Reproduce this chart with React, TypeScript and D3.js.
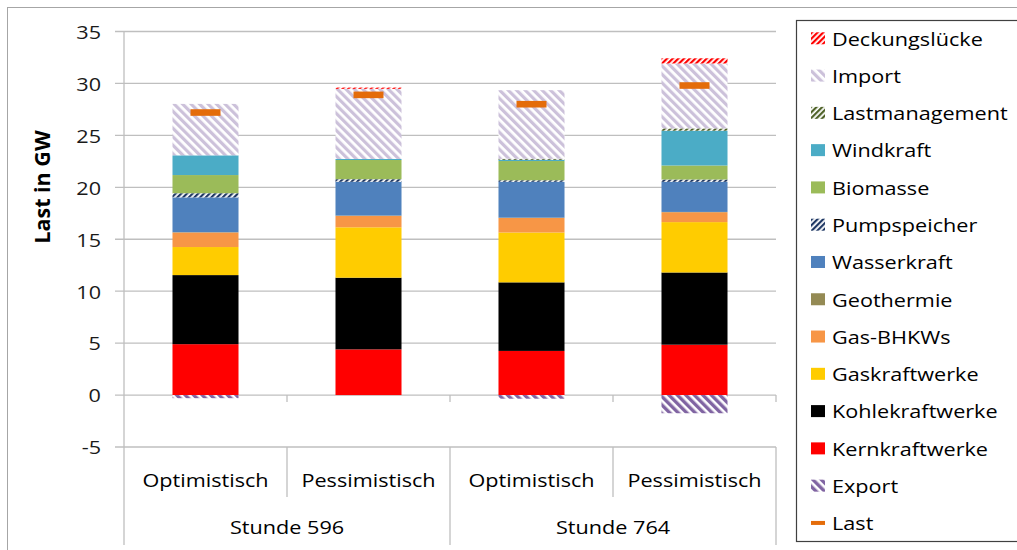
import * as d3 from "d3";

const scenarios = ["Optimistisch", "Pessimistisch", "Optimistisch", "Pessimistisch"];
const hours = ["Stunde 596", "Stunde 764"];
const yTicks = [-5, 0, 5, 10, 15, 20, 25, 30, 35];

// values in GW, per bar (596 opt, 596 pess, 764 opt, 764 pess)
const kernkraft = [4.9, 4.4, 4.25, 4.85];
const kohle = [6.65, 6.9, 6.6, 6.95];
const gas = [2.7, 4.85, 4.8, 4.85];
const gasBhkw = [1.4, 1.1, 1.4, 0.95];
const geothermie = [0.03, 0.03, 0.03, 0.03];
const wasser = [3.35, 3.25, 3.45, 2.9];
const pumpspeicher = [0.4, 0.25, 0.15, 0.22];
const biomasse = [1.75, 1.85, 1.85, 1.35];
const wind = [1.9, 0.1, 0.12, 3.35];
const lastmanagement = [0, 0, 0.1, 0.22];
const importe = [4.95, 6.75, 6.6, 6.25];
const deckung = [0, 0.12, 0, 0.5];
const exporte = [-0.3, 0, -0.35, -1.75];
const last = [27.2, 28.9, 28.0, 29.8];

interface Series {
  key: string;
  values: number[];
  fill: string;
}

// stacking order, bottom to top
const series: Series[] = [
  { key: "Kernkraftwerke", values: kernkraft, fill: "#FF0000" },
  { key: "Kohlekraftwerke", values: kohle, fill: "#000000" },
  { key: "Gaskraftwerke", values: gas, fill: "#FFCC00" },
  { key: "Gas-BHKWs", values: gasBhkw, fill: "#F79646" },
  { key: "Geothermie", values: geothermie, fill: "#948A54" },
  { key: "Wasserkraft", values: wasser, fill: "#4F81BD" },
  { key: "Pumpspeicher", values: pumpspeicher, fill: "url(#p-pump)" },
  { key: "Biomasse", values: biomasse, fill: "#9BBB59" },
  { key: "Windkraft", values: wind, fill: "#4BACC6" },
  { key: "Lastmanagement", values: lastmanagement, fill: "url(#p-lm)" },
  { key: "Import", values: importe, fill: "url(#p-import)" },
  { key: "Deckungslücke", values: deckung, fill: "url(#p-deck)" },
  { key: "Export", values: exporte, fill: "url(#p-export)" },
];

const legendOrder = [
  "Deckungslücke", "Import", "Lastmanagement", "Windkraft", "Biomasse",
  "Pumpspeicher", "Wasserkraft", "Geothermie", "Gas-BHKWs", "Gaskraftwerke",
  "Kohlekraftwerke", "Kernkraftwerke", "Export", "Last",
];

const W = 1017;
const H = 550;
const plot = { left: 124, right: 776, top: 31.5, bottom: 447 };
const FONT = "'Open Sans', sans-serif";
const FS = 18.5;
const SX = 1.17; // reference text is a bit stretched horizontally
const GRID = "#BFBFBF";
const LAST = "#E46C0A";

function T({ x, y, anchor = "start", children, bold = false, fill = "#000" }: any) {
  return (
    <text
      transform={`translate(${x},${y}) scale(${SX},1)`}
      textAnchor={anchor}
      dominantBaseline="central"
      fontFamily={FONT}
      fontSize={FS}
      fontWeight={bold ? "bold" : "normal"}
      fill={fill}
    >
      {children}
    </text>
  );
}

function Stripes({ id, color, size, stroke, angle }: any) {
  return (
    <pattern
      id={id}
      patternUnits="userSpaceOnUse"
      width={size}
      height={size}
      patternTransform={`rotate(${angle})`}
    >
      <rect width={size} height={size} fill="#fff" />
      <rect width={stroke} height={size} fill={color} />
    </pattern>
  );
}

export default function App() {
  const idx = d3.range(scenarios.length);
  const x = d3
    .scaleBand<number>()
    .domain(idx)
    .range([plot.left, plot.right])
    .paddingInner(0.595)
    .paddingOuter(0.2975);
  const step = x.step();
  const y = d3.scaleLinear().domain([-5, 35]).range([plot.bottom, plot.top]);

  const rows = idx.map((i) => {
    const r: Record<string, number> = {};
    series.forEach((s) => (r[s.key] = s.values[i]));
    return r;
  });
  const stacked = d3
    .stack<Record<string, number>>()
    .keys(series.map((s) => s.key))
    .offset(d3.stackOffsetDiverging)(rows);

  const fillOf = (k: string) => series.find((s) => s.key === k)?.fill ?? "#000";
  const boundaries = d3.range(scenarios.length + 1).map((i) => plot.left + i * step);

  return (
    <svg
      width={W}
      height={H}
      style={{ position: "absolute", left: 0, top: 0, background: "#fff" }}
    >
      <defs>
        <Stripes id="p-import" color="#CCC1DA" size={6} stroke={3.2} angle={-45} />
        <Stripes id="p-export" color="#8064A2" size={6} stroke={3.4} angle={-45} />
        <Stripes id="p-pump" color="#1F3864" size={4} stroke={2.2} angle={45} />
        <Stripes id="p-lm" color="#4F6228" size={4} stroke={2.2} angle={45} />
        <Stripes id="p-deck" color="#FF0000" size={4} stroke={2.2} angle={45} />
      </defs>

      {/* outer chart frame */}
      <line x1={7} x2={W} y1={7.5} y2={7.5} stroke="#A6A6A6" />
      <line x1={7.5} x2={7.5} y1={7} y2={H} stroke="#A6A6A6" />

      {/* gridlines + y ticks */}
      {yTicks.map((t) => (
        <g key={t}>
          <line x1={115} x2={plot.right} y1={y(t)} y2={y(t)} stroke={GRID} strokeWidth={1.3} />
          <T x={101} y={y(t)} anchor="end" fill="#1a1a1a">{t}</T>
        </g>
      ))}
      <line x1={plot.left} x2={plot.left} y1={plot.top} y2={545} stroke={GRID} strokeWidth={1.3} />

      {/* ticks on zero line */}
      {boundaries.slice(1).map((b) => (
        <line key={b} x1={b} x2={b} y1={y(0)} y2={y(0) + 7} stroke={GRID} strokeWidth={1.3} />
      ))}

      {/* category separators */}
      {boundaries.slice(1).map((b, i) => (
        <line
          key={"s" + b}
          x1={b}
          x2={b}
          y1={plot.bottom}
          y2={i % 2 === 0 ? 497 : 545}
          stroke={GRID}
          strokeWidth={1.3}
        />
      ))}

      {/* bars */}
      {stacked.map((layer) => (
        <g key={layer.key} fill={fillOf(layer.key)}>
          {layer.map((d, i) =>
            d[1] - d[0] === 0 ? null : (
              <rect
                key={i}
                x={x(i)}
                width={x.bandwidth()}
                y={y(Math.max(d[0], d[1]))}
                height={Math.abs(y(d[0]) - y(d[1]))}
              />
            )
          )}
        </g>
      ))}

      {/* Last markers */}
      {last.map((v, i) => (
        <rect
          key={"l" + i}
          x={x(i)! + x.bandwidth() / 2 - 15}
          y={y(v) - 3.3}
          width={30}
          height={6.6}
          fill={LAST}
        />
      ))}

      {/* category labels */}
      {scenarios.map((s, i) => (
        <T key={"c" + i} x={x(i)! + x.bandwidth() / 2} y={480} anchor="middle">{s}</T>
      ))}
      {hours.map((h, i) => (
        <T key={"h" + i} x={plot.left + step * (2 * i + 1)} y={527} anchor="middle">{h}</T>
      ))}

      {/* y axis title */}
      <text
        transform={`translate(41,187) rotate(-90)`}
        textAnchor="middle"
        dominantBaseline="central"
        fontFamily={FONT}
        fontSize={21.5}
        fontWeight="bold"
        fill="#000"
      >
        Last in GW
      </text>

      {/* legend */}
      <rect x={796.5} y={20.5} width={W} height={521} fill="#fff" stroke="#404040" strokeWidth={1.2} />
      {legendOrder.map((k, i) => {
        const cy = 38.3 + i * 37.28;
        return (
          <g key={k}>
            {k === "Last" ? (
              <rect x={811} y={cy - 2} width={14} height={4} fill={LAST} />
            ) : (
              <rect x={811} y={cy - 6} width={14} height={12} fill={fillOf(k)} />
            )}
            <T x={832} y={cy}>{k}</T>
          </g>
        );
      })}
    </svg>
  );
}
